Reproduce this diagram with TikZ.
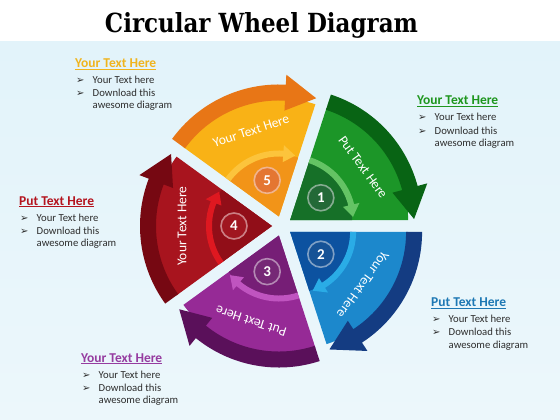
\documentclass[tikz,border=0pt]{standalone}
\usepackage{fontspec}
\setmainfont{Carlito}
\newfontfamily\titlefont{DejaVu Serif}
\newfontfamily\dingfont{DejaVu Sans}
\usetikzlibrary{calc}
\definecolor{bgtop}{RGB}{226,243,250}
\definecolor{bgbot}{RGB}{236,247,251}
\definecolor{txtgray}{RGB}{45,45,45}
% green
\definecolor{gbody}{RGB}{28,150,40}
\definecolor{gband}{RGB}{8,100,20}
\definecolor{ginner}{RGB}{22,112,40}
\definecolor{garrow}{RGB}{100,195,100}
\definecolor{gball}{RGB}{35,105,55}
\definecolor{ghead}{RGB}{30,150,30}
% yellow
\definecolor{ybody}{RGB}{249,178,22}
\definecolor{yband}{RGB}{232,118,22}
\definecolor{yinner}{RGB}{242,148,24}
\definecolor{yarrow}{RGB}{252,196,60}
\definecolor{yball}{RGB}{228,118,50}
\definecolor{yhead}{RGB}{240,180,30}
% red
\definecolor{rbody}{RGB}{168,20,30}
\definecolor{rband}{RGB}{118,8,18}
\definecolor{rinner}{RGB}{145,14,24}
\definecolor{rarrow}{RGB}{222,24,32}
\definecolor{rball}{RGB}{160,22,32}
\definecolor{rhead}{RGB}{180,20,30}
% purple
\definecolor{pbody}{RGB}{150,42,150}
\definecolor{pband}{RGB}{90,16,90}
\definecolor{pinner}{RGB}{118,30,118}
\definecolor{parrow}{RGB}{192,84,192}
\definecolor{pball}{RGB}{118,40,118}
\definecolor{phead}{RGB}{150,60,160}
% blue
\definecolor{bbody}{RGB}{28,136,204}
\definecolor{bband}{RGB}{20,60,130}
\definecolor{binner}{RGB}{12,82,160}
\definecolor{barrow}{RGB}{42,172,230}
\definecolor{bball}{RGB}{22,82,150}
\definecolor{bhead}{RGB}{30,120,180}
\tikzset{
  headtext/.style={anchor=base west, inner sep=0pt, font=\bfseries\fontsize{13.5}{13.5}\selectfont},
  bodytext/.style={anchor=base west, inner sep=0pt, text=txtgray, font=\fontsize{10.7}{12}\selectfont},
  bulletmark/.style={anchor=base west, inner sep=0pt, text=txtgray, font=\dingfont\fontsize{10}{10}\selectfont},
  numball/.style={circle, inner sep=0pt, minimum size=26pt, line width=1.6pt, text=white, font=\bfseries\fontsize{15}{15}\selectfont},
  sectortext/.style={inner sep=0pt, text=white, font=\fontsize{13.5}{13.5}\selectfont}
}
\newcommand{\infoblock}[5]{%
  \node[headtext, text=#4] (#1h) at (#2,-#3) {#5};
  \draw[#4, line width=0.9pt] ([yshift=-1.6pt]#1h.base west) -- ([yshift=-1.6pt]#1h.base east);
  \node[bulletmark] (#1b1) at (#2+1,-#3-16) {➢};
  \node[bodytext] (#1l1) at (#2+17.5,-#3-16) {Your Text here};
  \node[bulletmark] (#1b2) at (#2+1,-#3-29) {➢};
  \node[bodytext] (#1l2) at (#2+17.5,-#3-29) {Download this};
  \node[bodytext] (#1l3) at (#2+17.5,-#3-41.5) {awesome diagram};
}
\begin{document}
\begin{tikzpicture}[x=1pt,y=1pt]
\useasboundingbox (0,0) rectangle (560,-420);
\fill[white] (0,0) rectangle (560,-42);
\shade[top color=bgtop, bottom color=bgbot] (0,-42) rectangle (560,-420);
\node[anchor=base, inner sep=0pt] (title) at (261.5,-32.7)
  {\resizebox{313pt}{20pt}{\titlefont\bfseries Circular Wheel Diagram}};
\coordinate (C) at (282,-226);
\foreach \k/\bodyc/\bandc/\innc/\arrc/\ballc/\num/\txt in {%
  0/gbody/gband/ginner/garrow/gball/1/Put Text Here,
  1/ybody/yband/yinner/yarrow/yball/5/Your Text Here,
  2/rbody/rband/rinner/rarrow/rball/4/Your Text Here,
  3/pbody/pband/pinner/parrow/pball/3/Put Text Here,
  4/bbody/bband/binner/barrow/bball/2/Your Text Here}{%
  \pgfmathsetmacro\a{72*\k}
  \pgfmathsetmacro\b{\a+36}
  \pgfmathsetmacro\e{\a+72}
  \pgfmathsetmacro\h{\a+14}
  \pgfmathsetmacro\hh{\a+15}
  \pgfmathsetmacro\ti{\a+3}
  \pgfmathsetmacro\to{\a+0.5}
  \pgfmathsetmacro\r{\b-90}
  \begin{scope}[shift={(C)}]
  \begin{scope}[shift={(\b:10)}]
    \fill[\bodyc] (0,0) -- (\a:118) arc[start angle=\a, end angle=\e, radius=118] -- cycle;
    \fill[\innc] (0,0) -- (\a:62) arc[start angle=\a, end angle=\e, radius=62] -- cycle;
    \fill[\arrc] (\e:60) arc[start angle=\e, end angle=\h, radius=60] -- (\h:54.5) -- (\ti:63) -- (\h:71.5) -- (\h:66) arc[start angle=\h, end angle=\e, radius=66] -- cycle;
    \fill[\bandc] (\e:116) arc[start angle=\e, end angle=\hh, radius=116] -- (\hh:106) -- (\to:124) -- (\hh:142) -- (\hh:132) arc[start angle=\hh, end angle=\e, radius=132] -- cycle;
    \node[numball, fill=\ballc, draw=\ballc!55!white] (n\num) at (\b:38) {\num};
    \node[sectortext, rotate=\r] (t\num) at (\b:90) {\txt};
  \end{scope}
  \end{scope}
}
\infoblock{y}{75}{67.5}{yhead}{Your Text Here}
\infoblock{g}{417}{105}{ghead}{Your Text Here}
\infoblock{r}{19}{205}{rhead}{Put Text Here}
\infoblock{b}{431}{306.7}{bhead}{Put Text Here}
\infoblock{p}{81}{362}{phead}{Your Text Here}
\end{tikzpicture}
\end{document}
